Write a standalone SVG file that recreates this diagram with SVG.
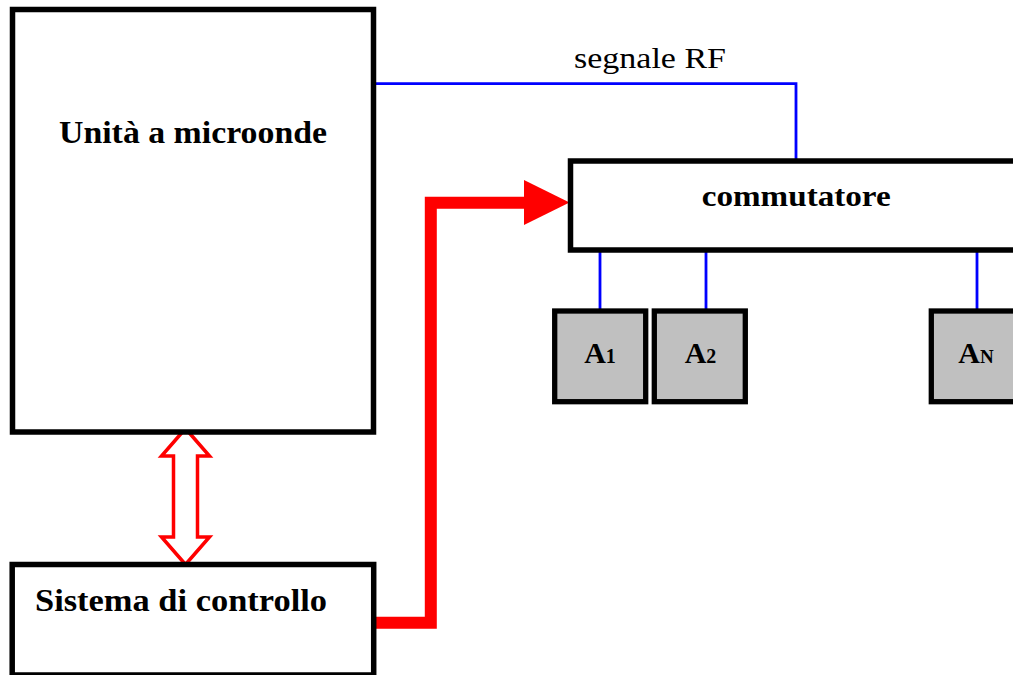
<svg xmlns="http://www.w3.org/2000/svg" width="1013" height="675" viewBox="0 0 1013 675">
<style>
.box{fill:#ffffff;stroke:#000000;stroke-width:5.5}
.ant{fill:#c0c0c0;stroke:#000000;stroke-width:5.3}
.blue{fill:none;stroke:#0000ff;stroke-width:2.8}
.bold{font-family:"Liberation Serif","Times New Roman",serif;font-weight:bold;fill:#000000}
.reg{font-family:"Liberation Serif","Times New Roman",serif;fill:#000000}
</style>
<rect width="1013" height="675" fill="#ffffff"/>
<g id="connectors">
<polyline class="blue" points="372,83.7 796,83.7 796,160"/>
<line class="blue" x1="600" y1="252" x2="600" y2="310" stroke-width="3"/>
<line class="blue" x1="706" y1="252" x2="706" y2="310" stroke-width="3"/>
<line class="blue" x1="977" y1="252" x2="977" y2="310" stroke-width="3"/>
<polyline points="373,622.8 430.8,622.8 430.8,202.8 526,202.8" fill="none" stroke="#ff0000" stroke-width="12" stroke-linejoin="miter"/>
<polygon points="524,180 569.5,202.5 524,225" fill="#ff0000"/>
<polygon points="185.5,428.5 209.5,456 197.5,456 197.5,537 209.5,537 185.5,564.5 161.5,537 173.5,537 173.5,456 161.5,456" fill="#ffffff" stroke="#ff0000" stroke-width="3.5" stroke-linejoin="miter"/>
<text class="reg" x="574" y="68.3" font-size="29" textLength="152" lengthAdjust="spacingAndGlyphs">segnale RF</text>
</g>
<g id="microwave">
<rect class="box" x="12.5" y="9.5" width="361" height="422.5"/>
<text class="bold" x="59" y="143" font-size="32" textLength="268" lengthAdjust="spacingAndGlyphs">Unità a microonde</text>
</g>
<g id="control">
<rect class="box" x="12.2" y="564.5" width="361.5" height="110.5"/>
<text class="bold" x="35" y="611" font-size="32" textLength="292" lengthAdjust="spacingAndGlyphs">Sistema di controllo</text>
</g>
<g id="commutatore">
<rect class="box" x="570.5" y="161" width="460" height="89"/>
<text class="bold" x="701.7" y="206" font-size="29" textLength="189" lengthAdjust="spacingAndGlyphs">commutatore</text>
</g>
<g id="A1">
<rect class="ant" x="554.7" y="311" width="91" height="90.7"/>
<text class="bold" x="600" y="363.3" text-anchor="middle" font-size="30">A<tspan font-size="20">1</tspan></text>
</g>
<g id="A2">
<rect class="ant" x="654.3" y="311" width="91" height="90.7"/>
<text class="bold" x="700.5" y="363.3" text-anchor="middle" font-size="30">A<tspan font-size="20">2</tspan></text>
</g>
<g id="AN">
<rect class="ant" x="931.3" y="311" width="91" height="90.7"/>
<text class="bold" x="976" y="363.3" text-anchor="middle" font-size="30">A<tspan font-size="19">N</tspan></text>
</g>
</svg>
